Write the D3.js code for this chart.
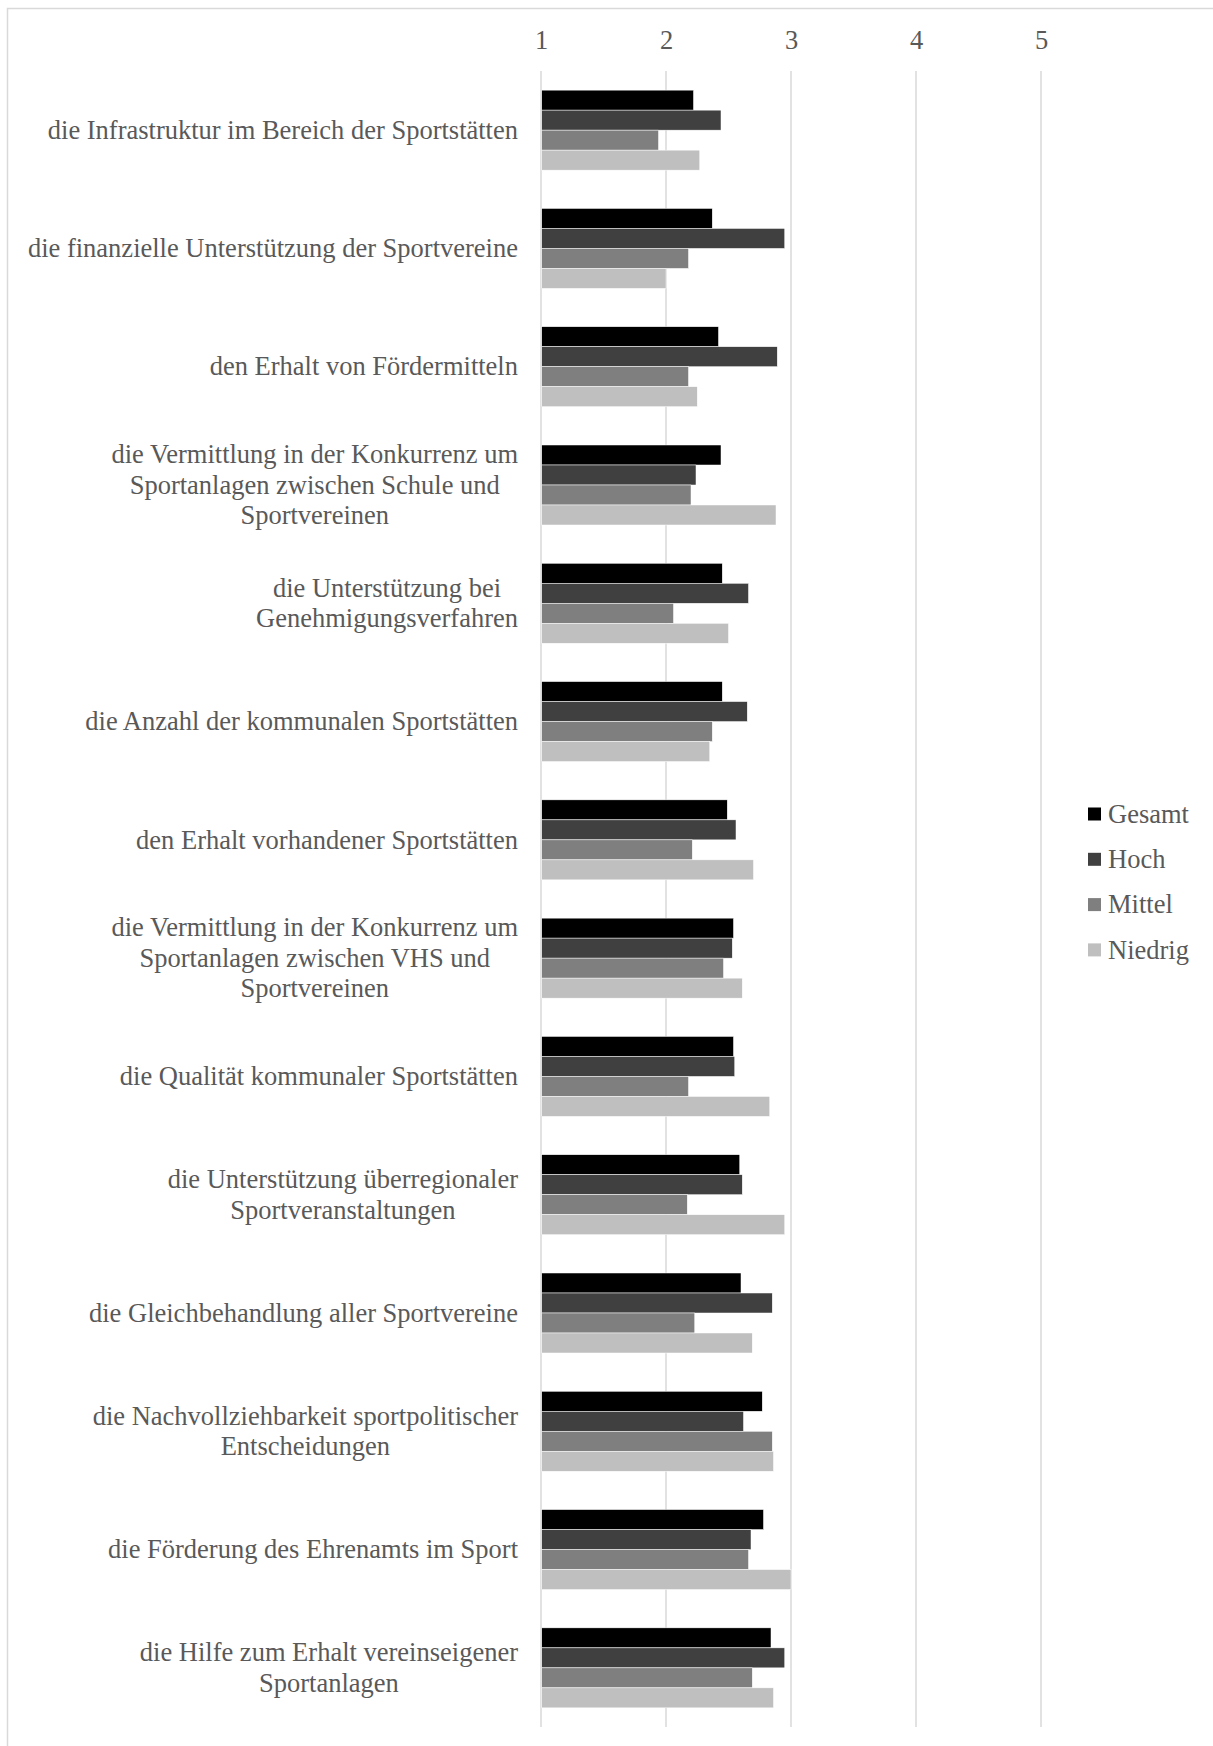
<!DOCTYPE html>
<html lang="de">
<head>
<meta charset="utf-8">
<title>Zufriedenheit kommunale Sportförderung</title>
<script src="https://d3js.org/d3.v7.min.js"></script>
<style>
  body { margin: 0; background: #fff; }
  svg text { font-family: "Liberation Serif", "Times New Roman", serif; fill: #595959; }
</style>
</head>
<body>
<div id="chart"></div>
<script>
// Kategorien (Zeilenumbrüche wie im Original)
var categories = [
  "die Infrastruktur im Bereich der Sportstätten",
  "die finanzielle Unterstützung der Sportvereine",
  "den Erhalt von Fördermitteln",
  "die Vermittlung in der Konkurrenz um\nSportanlagen zwischen Schule und\nSportvereinen",
  "die Unterstützung bei\nGenehmigungsverfahren",
  "die Anzahl der kommunalen Sportstätten",
  "den Erhalt vorhandener Sportstätten",
  "die Vermittlung in der Konkurrenz um\nSportanlagen zwischen VHS und\nSportvereinen",
  "die Qualität kommunaler Sportstätten",
  "die Unterstützung überregionaler\nSportveranstaltungen",
  "die Gleichbehandlung aller Sportvereine",
  "die Nachvollziehbarkeit sportpolitischer\nEntscheidungen",
  "die Förderung des Ehrenamts im Sport",
  "die Hilfe zum Erhalt vereinseigener\nSportanlagen"
];
var seriesNames = ["Gesamt", "Hoch", "Mittel", "Niedrig"];
var gesamt  = [2.22, 2.37, 2.42, 2.44, 2.45, 2.45, 2.49, 2.54, 2.54, 2.59, 2.60, 2.77, 2.78, 2.84];
var hoch    = [2.44, 2.95, 2.89, 2.24, 2.66, 2.65, 2.56, 2.53, 2.55, 2.61, 2.85, 2.62, 2.68, 2.95];
var mittel  = [1.94, 2.18, 2.18, 2.20, 2.06, 2.37, 2.21, 2.46, 2.18, 2.17, 2.23, 2.85, 2.66, 2.69];
var niedrig = [2.27, 2.00, 2.25, 2.88, 2.50, 2.35, 2.70, 2.61, 2.83, 2.95, 2.69, 2.86, 3.00, 2.86];
var tickValues = [1, 2, 3, 4, 5];

var seriesValues = [gesamt, hoch, mittel, niedrig];
var width = 1213, height = 1746;
var plot = { left: 541, right: 1041, top: 71, bottom: 1727 };
var labelRight = 518;
var fontSize = 26.5;

var color = d3.scaleOrdinal()
    .domain(seriesNames)
    .range(["#000000", "#404040", "#7f7f7f", "#bfbfbf"]);

var svg = d3.select("#chart").append("svg")
    .attr("width", width)
    .attr("height", height);

// Rahmen
svg.append("rect")
    .attr("x", 7.5).attr("y", 8.5)
    .attr("width", width).attr("height", height)
    .attr("fill", "none")
    .attr("stroke", "#d9d9d9")
    .attr("stroke-width", 1.5);

var x = d3.scaleLinear().domain([1, 5]).range([plot.left, plot.right]);

var y0 = d3.scaleBand()
    .domain(categories)
    .range([plot.top, plot.bottom])
    .paddingInner(0.3237)
    .paddingOuter(0.3237 / 2);

var y1 = d3.scaleBand()
    .domain(seriesNames)
    .range([0, y0.bandwidth()]);

// Gitterlinien
svg.append("g")
    .selectAll("line")
    .data(tickValues)
    .enter().append("line")
    .attr("x1", function(d) { return x(d); })
    .attr("x2", function(d) { return x(d); })
    .attr("y1", plot.top)
    .attr("y2", plot.bottom)
    .attr("stroke", "#d9d9d9")
    .attr("stroke-width", 1.5);

// Achse oben
var xAxis = d3.axisTop(x).tickValues(tickValues).tickSize(0).tickFormat(d3.format("d"));
var gx = svg.append("g")
    .attr("transform", "translate(0," + 52 + ")")
    .call(xAxis);
gx.select(".domain").remove();
gx.selectAll("text")
    .attr("font-size", fontSize)
    .attr("font-family", null)
    .attr("fill", null);

// Balken
var rows = categories.map(function(c, i) {
    return seriesNames.map(function(s, j) {
        return { cat: c, series: s, value: seriesValues[j][i] };
    });
});

var groups = svg.append("g")
    .selectAll("g")
    .data(rows)
    .enter().append("g")
    .attr("transform", function(d) { return "translate(0," + y0(d[0].cat) + ")"; });

groups.selectAll("rect")
    .data(function(d) { return d; })
    .enter().append("rect")
    .attr("x", x(1) + 0.75)
    .attr("y", function(d) { return y1(d.series); })
    .attr("width", function(d) { return x(d.value) - x(1) - 0.75; })
    .attr("height", y1.bandwidth())
    .attr("fill", function(d) { return color(d.series); })
    .attr("stroke", "#ffffff")
    .attr("stroke-width", 0.5);

// Kategorienbeschriftung
var lineHeight = 30.5;
categories.forEach(function(c) {
    var lines = c.split("\n");
    var cy = y0(c) + y0.bandwidth() / 2;
    var t = svg.append("text")
        .attr("font-size", fontSize)
        .attr("text-anchor", "middle");
    lines.forEach(function(line, k) {
        t.append("tspan")
            .attr("y", cy + (k - (lines.length - 1) / 2) * lineHeight)
            .attr("dy", "0.33em")
            .text(line);
    });
    var maxW = 0;
    t.selectAll("tspan").each(function() {
        maxW = Math.max(maxW, this.getComputedTextLength());
    });
    t.selectAll("tspan").attr("x", labelRight - maxW / 2);
});

// Legende
var legend = svg.selectAll(".legende")
    .data(seriesNames)
    .enter().append("g")
    .attr("class", "legende")
    .attr("transform", function(d, i) { return "translate(1088," + (814 + i * 45.3) + ")"; });

legend.append("rect")
    .attr("x", 0)
    .attr("y", -6.5)
    .attr("width", 13)
    .attr("height", 13)
    .attr("fill", color);

legend.append("text")
    .attr("x", 20)
    .attr("y", 0)
    .attr("dy", "0.33em")
    .attr("font-size", fontSize)
    .text(function(d) { return d; });
</script>
</body>
</html>
